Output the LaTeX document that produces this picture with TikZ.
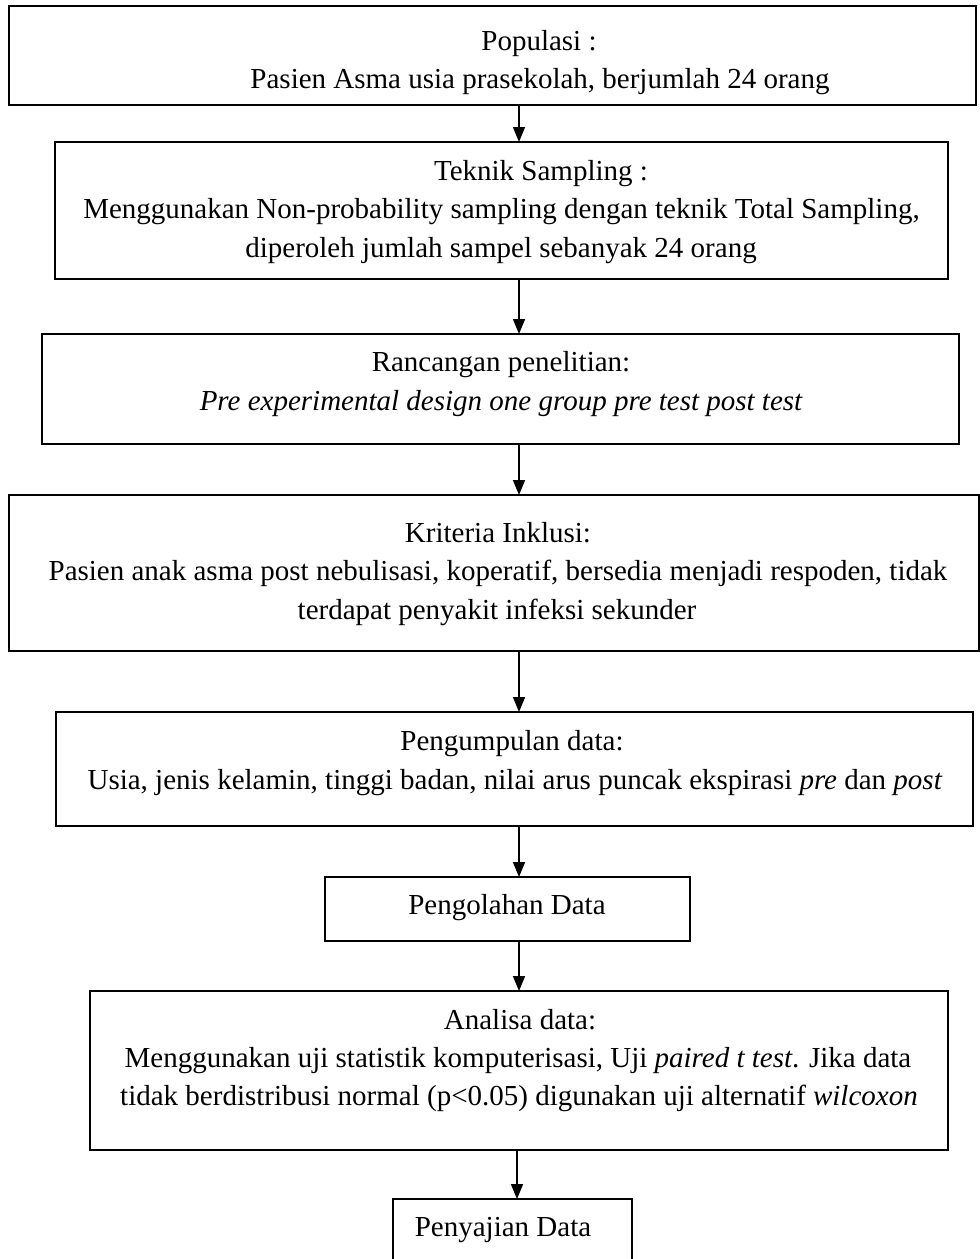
\documentclass[tikz,border=0pt]{standalone}
\usepackage{fontspec}
\setmainfont{Liberation Serif}
\usetikzlibrary{arrows.meta}
\tikzset{
  box/.style={draw, line width=2.4pt, inner sep=0pt, outer sep=0pt},
  txt/.style={inner sep=0pt, outer sep=0pt, text height=20pt, text depth=6pt, font=\fontsize{29}{38}\selectfont},
  arr/.style={line width=1.6pt, -{Triangle[length=15pt,width=12pt]}}
}
\begin{document}
\begin{tikzpicture}[x=1pt,y=-1pt]
\useasboundingbox (0,0) rectangle (980,1259);
% boxes
\node[box, minimum width=967pt, minimum height=99pt] (b1) at (492.5,55.5) {};
\node[box, minimum width=893pt, minimum height=137pt] (b2) at (501.5,210.5) {};
\node[box, minimum width=917pt, minimum height=110pt] (b3) at (500.5,389) {};
\node[box, minimum width=970pt, minimum height=156pt] (b4) at (494,573) {};
\node[box, minimum width=917pt, minimum height=114pt] (b5) at (514.5,769) {};
\node[box, minimum width=365pt, minimum height=64pt] (b6) at (507.5,909) {};
\node[box, minimum width=858pt, minimum height=159pt] (b7) at (519,1070.5) {};
\node[box, minimum width=239pt, minimum height=81pt] (b8) at (512.5,1239.5) {};
% texts
\node[txt] (t1a) at (539,43) {Populasi :};
\node[txt] (t1b) at (540,81) {Pasien Asma usia prasekolah, berjumlah 24 orang};
\node[txt] (t2a) at (541,173) {Teknik Sampling :};
\node[txt] (t2b) at (501.5,211) {Menggunakan Non-probability sampling dengan teknik Total Sampling,};
\node[txt] (t2c) at (501,250) {diperoleh jumlah sampel sebanyak 24 orang};
\node[txt] (t3a) at (501,364) {Rancangan penelitian:};
\node[txt] (t3b) at (501,403) {\itshape Pre experimental design one group pre test post test};
\node[txt] (t4a) at (498,535) {Kriteria Inklusi:};
\node[txt] (t4b) at (498,573) {Pasien anak asma post nebulisasi, koperatif, bersedia menjadi respoden, tidak};
\node[txt] (t4c) at (497,612) {terdapat penyakit infeksi sekunder};
\node[txt] (t5a) at (512,743) {Pengumpulan data:};
\node[txt] (t5b) at (515,782) {Usia, jenis kelamin, tinggi badan, nilai arus puncak ekspirasi \textit{pre} dan \textit{post}};
\node[txt] (t6) at (507,907) {Pengolahan Data};
\node[txt] (t7a) at (520,1022) {Analisa data:};
\node[txt] (t7b) at (518,1060) {Menggunakan uji statistik komputerisasi, Uji \textit{paired t test}. Jika data};
\node[txt] (t7c) at (519,1098) {tidak berdistribusi normal (p<0.05) digunakan uji alternatif \textit{wilcoxon}};
\node[txt] (t8) at (503,1229) {Penyajian Data};
% arrows
\coordinate (ax) at (519,0);
\coordinate (bx) at (517,0);
\draw[arr] (b1.south -| ax) -- (b2.north -| ax);
\draw[arr] (b2.south -| ax) -- (b3.north -| ax);
\draw[arr] (b3.south -| ax) -- (b4.north -| ax);
\draw[arr] (b4.south -| ax) -- (b5.north -| ax);
\draw[arr] (b5.south -| ax) -- (b6.north -| ax);
\draw[arr] (b6.south -| ax) -- (b7.north -| ax);
\draw[arr] (b7.south -| bx) -- (b8.north -| bx);
\end{tikzpicture}
\end{document}
